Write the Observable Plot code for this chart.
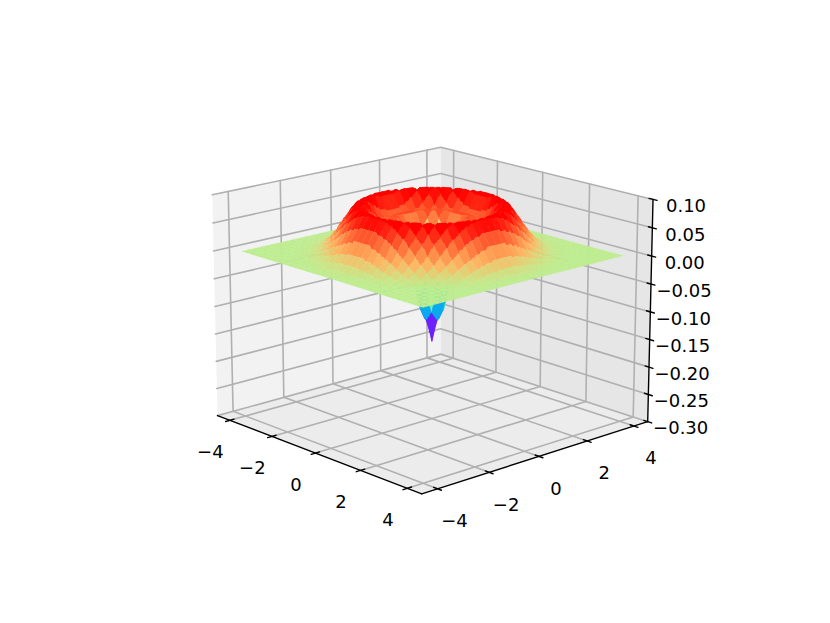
<!DOCTYPE html>
<html>
<head>
<meta charset="utf-8">
<style>html,body{margin:0;padding:0;background:#fff;overflow:hidden}svg{display:block}</style>
<script src="https://cdn.jsdelivr.net/npm/d3@7"></script>
<script src="https://cdn.jsdelivr.net/npm/@observablehq/plot@0.6"></script>
</head>
<body>
<script>
// axis ticks and limits
const xTicks = [-4, -2, 0, 2, 4];
const yTicks = [-4, -2, 0, 2, 4];
const zTicks = [0.10, 0.05, 0.00, -0.05, -0.10, -0.15, -0.20, -0.25, -0.30];
const xLim = [-4.6, 4.6];
const yLim = [-4.6, 4.6];
const zLim = [-0.30, 0.10];

// Surface height against distance from the centre.
// wellHeights: r = 0, 0.025, ... 1.0  (the narrow well and the inner wall)
const wellHeights = [
  -.158,-.153,-.148,-.1435,-.139,-.1345,-.130,-.126,-.122,-.1185,
  -.115,-.111,-.107,-.103,-.0995,-.095,-.090,-.084,-.077,-.069,
  -.060,-.050,-.040,-.030,-.020,-.011,-.003,.005,.012,.018,
  .024,.029,.034,.038,.042,.046,.049,.052,.055,.058,.060
];
// ringHeights: r = 1.05, 1.10, ... (the ring and its outer slope, then flat at 0)
const ringHeights = [
  .061,.062,.062,.061,.060,.059,.057,.055,.053,.052,
  .052,.053,.054,.056,.059,.063,.068,.073,.078,.082,
  .0845,.0855,.086,.086,.085,.083,.080,.076,.0715,.067,
  .063,.059,.055,.051,.047,.042,.038,.034,.0305,.027,
  .024,.021,.018,.0155,.013,.011,.009,.0075,.006,.005,
  .004,.0033,.0026,.002,.0015,.0012,.001,.0008,.0006,.0004,
  .0003,.0002,.0002,.0001,.0001,.0001,.0001,0
];
const gridStep = 0.25;      // one coloured cell
const cellSamples = 5;      // samples along each cell edge
const gridHalf = 16;

// colour: value -> position on the rainbow map
const colorDomain = [-0.13, 0, 0.08];
const colorStops = [0, 0.62, 1];

// view
const elev = 16.5, azim = -42.5, dist = 10;
const box = [1.143, 1.143, 0.857];
const width = 830, height = 623;
const viewScale = 2696, viewCx = 431.4, viewCy = 308.7;

const rad = Math.PI / 180;
const w = [Math.cos(elev*rad)*Math.cos(azim*rad), Math.cos(elev*rad)*Math.sin(azim*rad), Math.sin(elev*rad)];
const hn = Math.hypot(w[0], w[1]);
const u = [-w[1]/hn, w[0]/hn, 0];
const v = [w[1]*u[2]-w[2]*u[1], w[2]*u[0]-w[0]*u[2], w[0]*u[1]-w[1]*u[0]];
const dot = (a,b) => a[0]*b[0]+a[1]*b[1]+a[2]*b[2];

function project(x, y, z) {
  const d = [
    ((x-xLim[0])/(xLim[1]-xLim[0])-0.5)*box[0],
    ((y-yLim[0])/(yLim[1]-yLim[0])-0.5)*box[1],
    ((z-zLim[0])/(zLim[1]-zLim[0])-0.5)*box[2]
  ];
  const depth = dist - dot(w, d);
  return {px: dot(u, d)/depth, py: dot(v, d)/depth, depth};
}
function path3d(id, pts) {
  return pts.map(([x,y,z]) => ({id, ...project(x,y,z)}));
}

// panes
const [x0,x1] = xLim, [y0,y1] = yLim, [z0,z1] = zLim;
const paneX = path3d("x", [[x0,y0,z0],[x0,y1,z0],[x0,y1,z1],[x0,y0,z1]]);
const paneY = path3d("y", [[x0,y1,z0],[x1,y1,z0],[x1,y1,z1],[x0,y1,z1]]);
const paneZ = path3d("z", [[x0,y0,z0],[x1,y0,z0],[x1,y1,z0],[x0,y1,z0]]);

// grid lines
const gridLines = [
  ...xTicks.flatMap(t => path3d("gx"+t, [[t,y0,z0],[t,y1,z0],[t,y1,z1]])),
  ...yTicks.flatMap(t => path3d("gy"+t, [[x1,t,z0],[x0,t,z0],[x0,t,z1]])),
  ...zTicks.flatMap(t => path3d("gz"+t, [[x0,y0,t],[x0,y1,t],[x1,y1,t]]))
];

// axis lines and tick marks
const axisLines = [
  ...path3d("ax", [[x0,y0,z0],[x1,y0,z0]]),
  ...path3d("ay", [[x1,y0,z0],[x1,y1,z0]]),
  ...path3d("az", [[x1,y1,z0],[x1,y1,z1]]),
  ...xTicks.flatMap(t => path3d("tx"+t, [[t,y0-0.16,z0],[t,y0+0.16,z0]])),
  ...yTicks.flatMap(t => path3d("ty"+t, [[x1+0.16,t,z0],[x1-0.16,t,z0]])),
  ...zTicks.flatMap(t => path3d("tz"+t, [[x1+0.16,y1,t],[x1-0.16,y1,t]]))
];

const fmtTick = t => String(t).replace("-", "\u2212");
const fmtZ = t => d3.format(".2f")(t).replace("-", "\u2212");
const xLabels = xTicks.map(t => ({label: fmtTick(t), ...project(t,y0,z0)}));
const yLabels = yTicks.map(t => ({label: fmtTick(t), ...project(x1,t,z0)}));
const zLabels = zTicks.map(t => ({label: fmtZ(t), ...project(x1,y1,t)}));

// height lookup: nearest entry of the read-off tables
const radii = [...wellHeights.map((_,i) => i*0.025), ...ringHeights.map((_,i) => 1.05+i*0.05)];
const heights = [...wellHeights, ...ringHeights];
const heightAt = (x,y) => {
  const r = Math.hypot(x,y);
  return heights[Math.min(d3.bisectCenter(radii, r), heights.length-1)];
};

// surface cells: flat colour, outline following the surface along each edge
const cells = [];
for (let i=-gridHalf;i<gridHalf;i++) for (let j=-gridHalf;j<gridHalf;j++) {
  const a=i*gridStep, b=j*gridStep, s=gridStep/cellSamples;
  const outline = [];
  for (let k=0;k<cellSamples;k++) outline.push([a+k*s,b]);
  for (let k=0;k<cellSamples;k++) outline.push([a+gridStep,b+k*s]);
  for (let k=0;k<cellSamples;k++) outline.push([a+gridStep-k*s,b+gridStep]);
  for (let k=0;k<cellSamples;k++) outline.push([a,b+gridStep-k*s]);
  const corners = outline.map(([x,y]) => [x,y,heightAt(x,y)]);
  const value = d3.mean(corners, c => c[2]);
  const pts = corners.map(c => project(...c));
  cells.push({value, pts, depth: d3.mean(pts, p => p.depth)});
}
cells.sort((p,q) => d3.descending(p.depth,q.depth));
const surface = cells.flatMap((c,k) => c.pts.map(p => ({id:k, value:c.value, px:p.px, py:p.py})));

// matplotlib "rainbow"
const rainbow = t => {
  const r = Math.min(1,Math.abs(2*t-0.5)), g = Math.sin(Math.PI*t), b = Math.cos(Math.PI*t/2);
  return `rgb(${Math.round(255*r)},${Math.round(255*g)},${Math.round(255*b)})`;
};

const gridColor = "#b0b0b0";
const lineOpts = {x:"px", y:"py", z:"id"};
const font = {fontSize:18, fontFamily:"DejaVu Sans", fill:"#000", text:"label", x:"px", y:"py"};

const chart = Plot.plot({
  width, height,
  marginTop:0, marginRight:0, marginBottom:0, marginLeft:0,
  style:{background:"#fff", overflow:"visible"},
  x:{domain:[-viewCx/viewScale,(width-viewCx)/viewScale], range:[0,width], axis:null},
  y:{domain:[viewCy/viewScale,(viewCy-height)/viewScale], range:[0,height], axis:null},
  color:{type:"linear", domain:colorDomain, range:colorStops, clamp:true, interpolate:(p,q) => t => rainbow(p+t*(q-p))},
  marks:[
    Plot.line(paneX,{...lineOpts, fill:"#f2f2f2", stroke:"none", curve:"linear-closed"}),
    Plot.line(paneY,{...lineOpts, fill:"#e6e6e6", stroke:"none", curve:"linear-closed"}),
    Plot.line(paneZ,{...lineOpts, fill:"#ececec", stroke:"none", curve:"linear-closed"}),
    Plot.line(gridLines,{...lineOpts, stroke:gridColor, strokeWidth:1.6}),
    Plot.line(axisLines,{...lineOpts, stroke:"#000", strokeWidth:1.4}),
    Plot.line(surface,{...lineOpts, fill:"value", stroke:"value", strokeWidth:0.3, curve:"linear-closed"}),
    Plot.text(xLabels,{...font, dx:-19.5, dy:32}),
    Plot.text(yLabels,{...font, dx:17, dy:32.5}),
    Plot.text(zLabels,{...font, dx:33, dy:7})
  ]
});
document.body.appendChild(chart);
</script>
</body>
</html>
